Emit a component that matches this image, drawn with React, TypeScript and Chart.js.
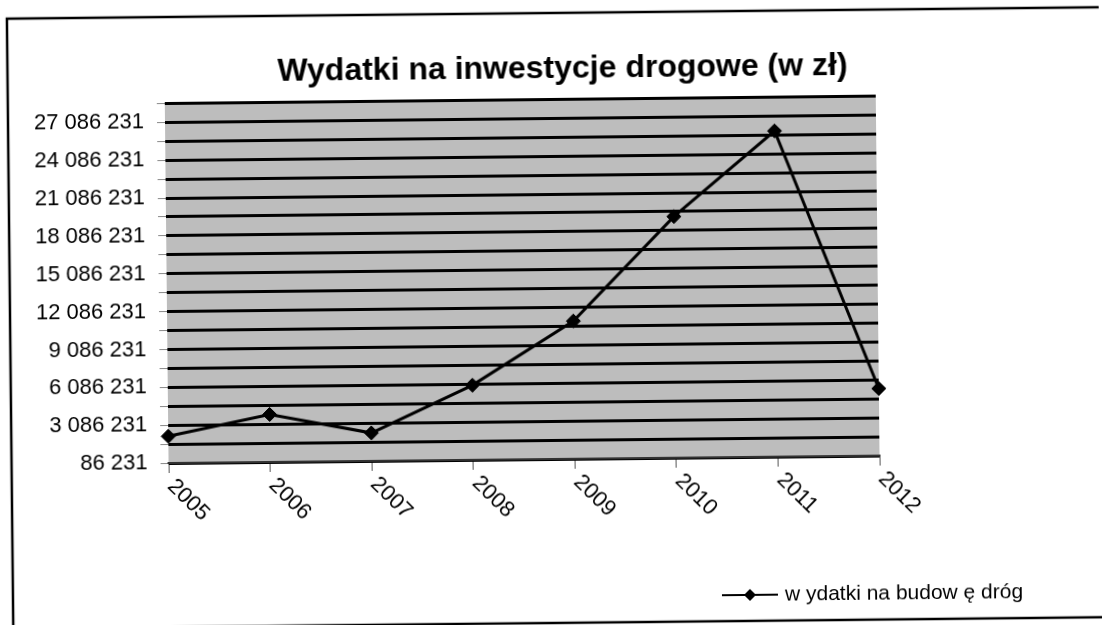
import React, { useEffect, useRef } from 'react';
import { Chart, registerables } from 'chart.js';

Chart.register(...registerables);

// ---- data ----
const TITLE = 'Wydatki na inwestycje drogowe (w zł)';
const SERIES_LABEL = 'w ydatki na budow ę dróg';
const years = ['2005', '2006', '2007', '2008', '2009', '2010', '2011', '2012'];
const expenses = [2200000, 3850000, 2300000, 6000000, 11000000, 19200000, 25900000, 5400000];
const Y_MIN = 86231;
const Y_MAX = 28586231;
const Y_STEP = 1500000;
const LABEL_EVERY = 2;

const FONT = "'Liberation Sans', Arial, sans-serif";
const W = 1102;
const H = 625;

const fmt = (v: number) =>
  Math.round(v).toString().replace(/\B(?=(\d{3})+(?!\d))/g, ' ');

const decor = {
  id: 'decor',
  beforeDraw(chart: any) {
    const { ctx, chartArea: a } = chart;
    ctx.save();
    ctx.fillStyle = '#bdbdbd';
    ctx.fillRect(a.left, a.top, a.right - a.left, a.bottom - a.top);
    ctx.strokeStyle = '#000';
    ctx.lineWidth = 2.5;
    ctx.beginPath();
    ctx.moveTo(W, 13);
    ctx.lineTo(10, 13);
    ctx.lineTo(10, H);
    ctx.moveTo(0, 623);
    ctx.lineTo(W, 623);
    ctx.stroke();
    ctx.restore();
  },
  afterDraw(chart: any) {
    const { ctx, chartArea: a } = chart;
    const xs = chart.scales.x;
    ctx.save();
    ctx.fillStyle = '#000';
    ctx.font = `22px ${FONT}`;
    ctx.textAlign = 'left';
    ctx.textBaseline = 'middle';
    xs.ticks.forEach((t: any, i: number) => {
      const x = xs.getPixelForTick(i);
      ctx.save();
      ctx.translate(x + 2, a.bottom + 20);
      ctx.rotate(Math.PI / 4);
      ctx.fillText(String(xs.getLabelForValue(t.value)), 0, 0);
      ctx.restore();
    });
    // legend
    const ds = chart.data.datasets[0];
    const ly = 597;
    const lx0 = 719;
    const lx1 = 775;
    ctx.strokeStyle = '#000';
    ctx.lineWidth = 2;
    ctx.beginPath();
    ctx.moveTo(lx0, ly);
    ctx.lineTo(lx1, ly);
    ctx.stroke();
    const cx = (lx0 + lx1) / 2;
    const r = 6;
    ctx.beginPath();
    ctx.moveTo(cx, ly - r);
    ctx.lineTo(cx + r, ly);
    ctx.lineTo(cx, ly + r);
    ctx.lineTo(cx - r, ly);
    ctx.closePath();
    ctx.fill();
    ctx.font = `21px ${FONT}`;
    ctx.fillText(ds.label, 782, ly);
    ctx.restore();
  },
};

export default function App() {
  const ref = useRef<HTMLCanvasElement>(null);
  useEffect(() => {
    const chart = new Chart(ref.current as HTMLCanvasElement, {
      type: 'line',
      data: {
        labels: years,
        datasets: [
          {
            label: SERIES_LABEL,
            data: expenses,
            borderColor: '#000',
            backgroundColor: '#000',
            borderWidth: 3,
            pointStyle: 'rectRot',
            pointRadius: 7,
            pointBackgroundColor: '#000',
            pointBorderColor: '#000',
            pointBorderWidth: 1,
            tension: 0,
            clip: false as any,
          },
        ],
      },
      options: {
        animation: false,
        responsive: false,
        devicePixelRatio: 1,
        layout: { padding: { top: 20, left: 28, right: 0, bottom: 0 } },
        plugins: {
          legend: { display: false },
          tooltip: { enabled: false },
          title: {
            display: true,
            text: TITLE,
            color: '#000',
            font: { family: FONT, size: 32, weight: 'bold' },
            padding: { top: 30, bottom: 11 },
          },
        },
        scales: {
          x: {
            type: 'category',
            offset: false,
            grid: { drawOnChartArea: false, tickLength: 10, tickColor: '#555', tickWidth: 1 },
            border: { display: true, color: '#333', width: 2 },
            ticks: { display: false, autoSkip: false },
            afterFit: (s: any) => {
              s.height = H - 459;
            },
          },
          y: {
            type: 'linear',
            min: Y_MIN,
            max: Y_MAX,
            grid: { color: '#000', lineWidth: 3, tickLength: 8, tickColor: '#888', tickWidth: 1 },
            border: { display: false },
            ticks: {
              stepSize: Y_STEP,
              autoSkip: false,
              padding: 13,
              color: '#000',
              font: { family: FONT, size: 22 },
              callback: (v: any, i: number) => (i % LABEL_EVERY === 0 ? fmt(Number(v)) : ''),
            },
            afterFit: (s: any) => {
              s.width = 167 - 28;
            },
          },
          yRight: {
            type: 'linear',
            position: 'right',
            display: true,
            grid: { display: false, drawOnChartArea: false },
            border: { display: false },
            ticks: { display: false },
            afterFit: (s: any) => {
              s.width = W - 878;
            },
          },
        },
      } as any,
      plugins: [decor],
    });
    return () => chart.destroy();
  }, []);

  return (
    <div
      style={{
        position: 'fixed',
        left: 0,
        top: 0,
        width: W,
        height: H,
        background: '#fff',
        overflow: 'hidden',
      }}
    >
      <canvas
        ref={ref}
        width={W}
        height={H}
        style={{
          display: 'block',
          width: W,
          height: H,
          transform: 'rotate(-0.6deg)',
          transformOrigin: '551px 312px',
        }}
      />
    </div>
  );
}
